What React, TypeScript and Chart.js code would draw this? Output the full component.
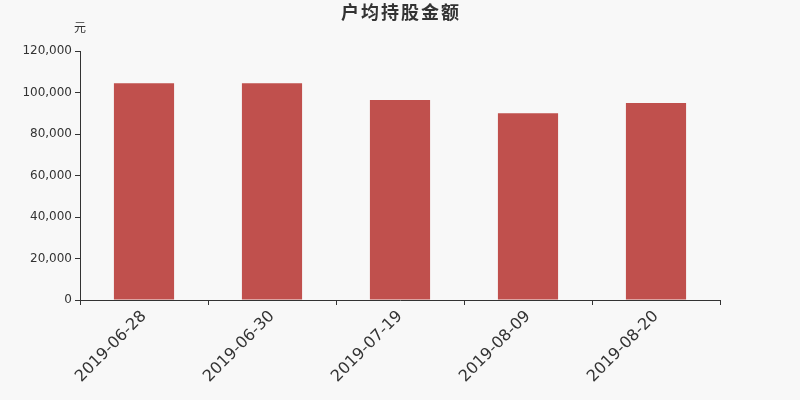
import React, { useRef, useEffect } from "react";
import { Chart, registerables } from "chart.js";

Chart.register(...registerables);

const categories = ["2019-06-28", "2019-06-30", "2019-07-19", "2019-08-09", "2019-08-20"];
const values = [104500, 104500, 96400, 90000, 95000];
const yTicks = [0, 20000, 40000, 60000, 80000, 100000, 120000];

const FONT = "'DejaVu Sans', 'Noto Sans CJK SC', sans-serif";

const titlePlugin = {
  id: "titleText",
  afterDraw(chart: Chart) {
    const ctx = chart.ctx as any;
    ctx.save();
    ctx.fillStyle = "#333";
    ctx.textAlign = "center";
    ctx.textBaseline = "middle";
    ctx.font = `bold 18px ${FONT}`;
    ctx.letterSpacing = "2px";
    ctx.fillText("户均持股金额", 401, 14);
    ctx.letterSpacing = "0px";
    ctx.font = `12px ${FONT}`;
    ctx.fillText("元", 80, 29);
    ctx.restore();
  },
};

const App: React.FC = () => {
  const canvasRef = useRef<HTMLCanvasElement | null>(null);
  const chartRef = useRef<Chart | null>(null);

  useEffect(() => {
    document.body.style.margin = "0";
    if (!canvasRef.current) return;
    const ctx = canvasRef.current.getContext("2d");
    if (!ctx) return;
    if (chartRef.current) chartRef.current.destroy();

    chartRef.current = new Chart(ctx, {
      type: "bar",
      data: {
        labels: categories,
        datasets: [
          {
            data: values,
            backgroundColor: "#c0504d",
            barPercentage: 0.47,
            categoryPercentage: 1,
          },
        ],
      },
      options: {
        responsive: false,
        animation: false,
        layout: { padding: { top: 51, right: 80, left: 0, bottom: 0 } },
        plugins: {
          legend: { display: false },
          tooltip: { enabled: false },
        },
        scales: {
          x: {
            afterFit: (scale: any) => {
              scale.height = 100;
            },
            grid: {
              display: true,
              drawOnChartArea: false,
              tickLength: 5,
              color: "#333",
            },
            border: { color: "#333", width: 1 },
            ticks: {
              color: "#333",
              font: { family: FONT, size: 16 },
              minRotation: 45,
              maxRotation: 45,
              padding: 2,
            },
          },
          y: {
            min: 0,
            max: 120000,
            afterFit: (scale: any) => {
              scale.width = 80;
            },
            afterBuildTicks: (scale: any) => {
              scale.ticks = yTicks.map((v) => ({ value: v }));
            },
            grid: {
              display: true,
              drawOnChartArea: false,
              tickLength: 5,
              color: "#333",
            },
            border: { color: "#333", width: 1 },
            ticks: {
              color: "#333",
              font: { family: FONT, size: 12 },
              padding: 3,
              callback: (v: any) => Number(v).toLocaleString("en-US"),
            },
          },
        },
      },
      plugins: [titlePlugin],
    });

    return () => {
      if (chartRef.current) {
        chartRef.current.destroy();
        chartRef.current = null;
      }
    };
  }, []);

  return (
    <div style={{ width: 800, height: 400, background: "#f8f8f8" }}>
      <canvas ref={canvasRef} width={800} height={400}></canvas>
    </div>
  );
};

export default App;
